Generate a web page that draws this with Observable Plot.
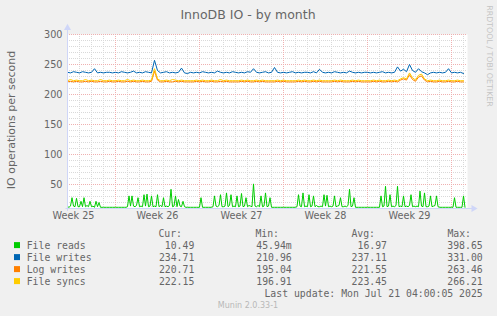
<!DOCTYPE html>
<html><head><meta charset="utf-8">
<script src="https://cdn.jsdelivr.net/npm/d3@7"></script>
<script src="https://cdn.jsdelivr.net/npm/@observablehq/plot@0.6"></script>
<style>
html,body{margin:0;padding:0;background:#F0F0F0;}
#wrap{position:relative;width:497px;height:316px;overflow:hidden;background:#F0F0F0;}
#wrap svg{position:absolute;left:0;top:0;}
</style></head><body><div id="wrap"></div>
<script>
// ---------- data ----------
const titleText = "InnoDB IO - by month";
const yLabel = "IO operations per second";
const seriesNames = ["File reads", "File writes", "Log writes", "File syncs"];
const seriesColors = ["#00CC00", "#0066B3", "#FF8000", "#FFCC00"];
const curValues = ["10.49 ", "234.71 ", "220.71 ", "222.15 "];
const minValues = ["45.94m", "210.96 ", "195.04 ", "196.91 "];
const avgValues = ["16.97 ", "237.11 ", "221.55 ", "223.45 "];
const maxValues = ["398.65 ", "331.00 ", "263.46 ", "266.21 "];
const lastUpdate = "Last update:  Mon Jul 21 04:00:05 2025";
const muninVersion = "Munin 2.0.33-1";
const watermark = "RRDTOOL / TOBI OETIKER";
const weekLabels = ["Week 25", "Week 26", "Week 27", "Week 28", "Week 29"];
const yTicks = [50, 100, 150, 200, 250, 300];

// File reads, 3-hour samples from Wed Jun 18 2025 00:00
const fileReads = [
  13,12,14,28,14,13,27,13, 13,22,13,28,13,15,13,22, 13,14,12,22,13,20,12,12,
  12,12,12,12,12,12,12,12, 12,12,12,12,12,12,12,12,
  13,31,14,31,14,13,15,28, 13,14,13,33,14,34,13,14, 31,13,14,13,33,13,15,13,
  28,13,14,13,15,42,13,14, 31,13,25,14,13,22,13,12,
  12,12,12,12,12,12,12,12, 12,28,12,12,12,12,12,12,
  12,13,31,14,13,15,33,13, 13,14,36,13,15,33,13,14, 13,31,13,14,35,13,14,28,
  13,15,14,13,51,14,13,15, 13,31,13,14,36,13,14,28,
  12,12,12,12,12,12,12,12, 12,12,12,12,12,12,12,12,
  12,13,33,14,13,36,13,14, 13,33,13,14,31,13,15,13, 13,14,13,33,14,32,13,14,
  13,14,31,13,14,15,28,13, 13,14,13,15,42,13,14,28,
  12,12,12,12,12,12,12,12, 12,12,12,12,12,12,12,12,
  12,31,13,14,47,13,14,33, 13,14,13,15,47,13,14,13, 31,13,14,13,15,33,13,14,
  13,14,13,39,14,13,36,13, 13,14,31,13,14,15,31,13,
  12,12,12,12,12,12,12,12, 12,12,28,12,12,12,12,12,
  31,12
];
// 6-hour samples from Wed Jun 18 2025 00:00
const fileWrites = [
  237,236,238,237, 236,238,237,236, 237,243,236,237, 236,237,237,236, 237,236,238,237,
  236,237,239,236, 237,236,238,237, 236,257,240,236, 237,238,236,237, 236,237,244,236,
  235,237,236,237, 236,238,237,236, 237,236,239,237, 236,237,236,238, 237,236,237,236,
  238,237,243,237, 236,237,238,236, 237,245,237,236, 237,236,237,238, 236,237,236,237,
  237,236,238,236, 242,237,236,237, 236,238,237,236, 237,236,239,237, 236,237,236,237,
  237,236,237,236, 237,238,236,237, 236,237,246,239, 242,238,250,240, 237,243,238,236,
  233,236,237,236, 237,236,237,243, 236,237,236,237, 235
];
const logWrites = [
  221,222,221,222, 221,221,222,221, 222,221,221,222, 221,221,222,221, 221,222,221,221,
  222,221,222,221, 221,222,221,221, 222,239,224,221, 221,222,221,221, 222,221,222,221,
  221,221,221,222, 221,222,221,221, 222,221,221,222, 221,222,221,221, 221,221,222,221,
  222,221,221,222, 221,222,221,221, 221,221,222,221, 222,221,221,221, 221,222,221,222,
  221,221,222,221, 222,221,221,221, 221,222,221,222, 221,221,221,222, 221,222,221,221,
  221,221,222,221, 222,221,221,222, 221,222,221,224, 226,224,233,225, 222,229,231,224,
  221,222,221,221, 222,221,221,222, 221,221,222,221, 221
];
const fileSyncs = [
  223,225,223,224, 223,223,225,223, 224,223,223,225, 223,223,224,223, 223,224,223,223,
  225,223,224,223, 223,224,223,223, 224,243,226,223, 223,224,223,225, 224,223,224,223,
  223,223,223,224, 223,224,223,223, 224,223,223,225, 223,224,223,223, 223,223,224,223,
  224,223,223,224, 223,224,223,223, 223,223,224,223, 224,223,223,223, 223,224,223,224,
  223,223,224,223, 224,223,223,223, 223,224,223,224, 223,223,223,224, 223,224,223,223,
  223,223,224,223, 224,223,223,224, 223,224,223,226, 228,226,236,228, 224,232,234,226,
  223,224,223,223, 224,223,223,224, 223,223,224,223, 223
];

// ---------- build ----------
const HOUR = 3600e3, DAY = 24 * HOUR;
const t0 = Date.UTC(2025, 5, 18, 0, 0);
const tEnd = Date.UTC(2025, 6, 21, 8, 0);
const toPts = (vals, stepH) => vals.map((v, i) => ({t: new Date(t0 + i * stepH * HOUR), v}));
const seriesPts = [toPts(fileReads, 3), toPts(fileWrites, 6), toPts(logWrites, 6), toPts(fileSyncs, 6)];

const days = d3.utcDay.range(new Date(t0 + DAY), new Date(tEnd));
const sundays = days.filter(d => d.getUTCDay() === 0);
const minorDays = days.filter(d => d.getUTCDay() !== 0);
const weekMids = sundays.map(d => new Date(+d - 3.5 * DAY)); // middle of preceding week
const weekLabelMap = new Map(weekMids.map((d, i) => [+d, weekLabels[i]]));
const minorY = d3.range(20, 301, 10).filter(v => v % 50 !== 0);
const majorY = d3.range(50, 301, 50);

const AXIS = "#CFD6F8";
const dash = "1,1";
const chart = Plot.plot({
  width: 497, height: 316,
  marginLeft: 67, marginRight: 30, marginTop: 34, marginBottom: 108,
  style: {background: "transparent", fontFamily: "DejaVu Sans", fontSize: "9.7px", color: "#666", overflow: "visible"},
  x: {type: "utc", domain: [new Date(t0), new Date(tEnd)]},
  y: {domain: [10, 300]},
  marks: [
    Plot.frame({fill: "#FFFFFF", stroke: null}),
    Plot.ruleY(minorY, {stroke: "#D9D9D9", strokeDasharray: dash}),
    Plot.ruleX(minorDays, {stroke: "#D9D9D9", strokeDasharray: dash}),
    Plot.ruleY(majorY, {stroke: "#EFB0B0", strokeDasharray: dash}),
    Plot.ruleX(sundays, {stroke: "#EFB0B0", strokeDasharray: dash}),
    Plot.axisY({ticks: yTicks, tickSize: 0, tickPadding: 5, label: null, fill: "#666"}),
    Plot.axisX({ticks: weekMids, tickSize: 0, tickPadding: 4, label: null, fill: "#666",
      tickFormat: d => weekLabelMap.get(+d)}),
    ...seriesPts.map((pts, i) => Plot.line(pts, {x: "t", y: "v", stroke: seriesColors[i], strokeWidth: 1})),
    Plot.ruleY([10], {x1: new Date(t0 - 1.5 * HOUR * 2), x2: new Date(tEnd + 6 * HOUR * 2), stroke: AXIS}),
    Plot.ruleX([new Date(t0)], {y1: 5, y2: 310, stroke: AXIS}),
    Plot.dot([0], {x: () => new Date(t0), y: () => 311, symbol: "triangle", r: 2.6, fill: AXIS, stroke: null}),
    Plot.dot([0], {x: () => new Date(tEnd + 6 * HOUR * 2), y: () => 10, symbol: "triangle", r: 2.6, fill: AXIS, stroke: null, rotate: 90})
  ]
});
const wrap = document.getElementById("wrap");
wrap.appendChild(chart);

// ---------- overlay texts & legend ----------
const svg = d3.select(wrap).append("svg").attr("width", 497).attr("height", 316)
  .style("font-family", "DejaVu Sans").style("fill", "#666");
svg.append("text").attr("x", 248).attr("y", 18.7).attr("text-anchor", "middle")
  .style("font-size", "12.5px").text(titleText);
svg.append("text").attr("transform", "translate(14.5,120) rotate(-90)").attr("text-anchor", "middle")
  .style("font-size", "11px").text(yLabel);
svg.append("text").attr("transform", "translate(486.5,56) rotate(90)").attr("text-anchor", "middle")
  .style("font-size", "7.9px").style("fill", "#C4C4C4").text(watermark);
svg.append("text").attr("x", 248).attr("y", 308).attr("text-anchor", "middle")
  .style("font-size", "8px").style("fill", "#B8B8B8").text(muninVersion);

const mono = svg.append("g").style("font-family", "DejaVu Sans Mono").style("font-size", "9.8px")
  .attr("xml:space", "preserve").style("white-space", "pre");
const headers = [["Cur:", 182], ["Min:", 279], ["Avg:", 375], ["Max:", 471]];
headers.forEach(([h, x]) => mono.append("text").attr("x", x).attr("y", 236.7).attr("text-anchor", "end").text(h));
const cols = [[curValues, 194.3], [minValues, 291.7], [avgValues, 387], [maxValues, 482.7]];
seriesNames.forEach((name, i) => {
  const base = 249.4 + i * 12;
  mono.append("rect").attr("x", 14).attr("y", base - 7.3).attr("width", 6).attr("height", 6).attr("fill", seriesColors[i]);
  mono.append("text").attr("x", 26.7).attr("y", base).text(name);
  cols.forEach(([arr, x]) => mono.append("text").attr("x", x).attr("y", base).attr("text-anchor", "end").text(arr[i]));
});
mono.append("text").attr("x", 482.7).attr("y", 297.4).attr("text-anchor", "end").text(lastUpdate);
</script></body></html>
